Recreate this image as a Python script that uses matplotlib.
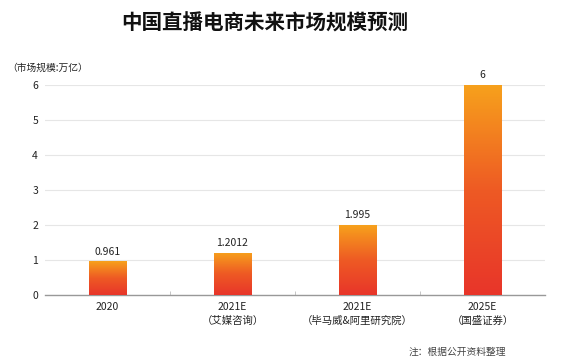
import matplotlib
matplotlib.use("Agg")
import matplotlib.pyplot as plt
import numpy as np
from matplotlib.colors import LinearSegmentedColormap

plt.rcParams['font.family'] = ['Noto Sans CJK SC', 'DejaVu Sans']

categories = ["2020", "2021E\n（艾媒咨询）", "2021E\n（毕马威&阿里研究院）", "2025E\n（国盛证券）"]
values = [0.961, 1.2012, 1.995, 6]
value_labels = ["0.961", "1.2012", "1.995", "6"]
yticks = [0, 1, 2, 3, 4, 5, 6]
title = "中国直播电商未来市场规模预测"
unit_label = "（市场规模:万亿）"
note = "注：根据公开资料整理"

W, H = 563, 364
fig = plt.figure(figsize=(W / 100, H / 100), dpi=100)
fig.patch.set_facecolor("white")
ax = fig.add_axes([45 / W, (H - 295) / H, 500 / W, 210 / H])

x = np.arange(len(categories))
bw = 0.30
cmap = LinearSegmentedColormap.from_list("g", ["#E8352A", "#EE5A24", "#F7A11C"])
grad = np.linspace(0, 1, 256).reshape(-1, 1)
bars = ax.bar(x, values, width=bw, color="none", edgecolor="none", zorder=3)
for b in bars:
    x0, y0 = b.get_x(), b.get_y()
    w, h = b.get_width(), b.get_height()
    im = ax.imshow(grad, extent=[x0, x0 + w, y0, y0 + h], origin="lower",
                   cmap=cmap, aspect="auto", zorder=3)
    im.set_clip_path(b)

for xi, v, lab in zip(x, values, value_labels):
    ax.annotate(lab, (xi, v), xytext=(0, 3.5), textcoords="offset points",
                ha="center", va="bottom", fontsize=7.5, color="#222222",
                fontweight="medium", annotation_clip=False)

ax.set_xlim(-0.5, len(categories) - 0.5)
ax.set_ylim(0, 6)
ax.set_yticks(yticks)
ax.set_yticklabels([str(t) for t in yticks], fontsize=7.5, color="#222222")
ax.yaxis.grid(True, color="#e6e6e6", linewidth=0.8, zorder=0)
ax.set_axisbelow(True)
ax.tick_params(axis="y", length=0, pad=5)
ax.set_xticks(x)
ax.set_xticklabels(categories, fontsize=7.5, color="#222222", linespacing=1.45)
ax.tick_params(axis="x", length=0, pad=5)
ax.set_xticks(np.arange(len(categories) - 1) + 0.5, minor=True)
ax.tick_params(axis="x", which="minor", length=3, color="#bbbbbb", direction="in")
for s in ["top", "right", "left"]:
    ax.spines[s].set_visible(False)
ax.spines["bottom"].set_color("#999999")
ax.spines["bottom"].set_linewidth(1.0)

fig.text(265 / W, 1 - 23 / H, title, ha="center", va="center",
         fontsize=14.8, fontweight="heavy", color="#111111")
fig.text(7 / W, 1 - 68 / H, unit_label, ha="left", va="center",
         fontsize=7, color="#222222")
fig.text(506 / W, 1 - 352 / H, note, ha="right", va="center",
         fontsize=7, color="#444444")

fig.savefig("out.png", dpi=100, facecolor="white")
